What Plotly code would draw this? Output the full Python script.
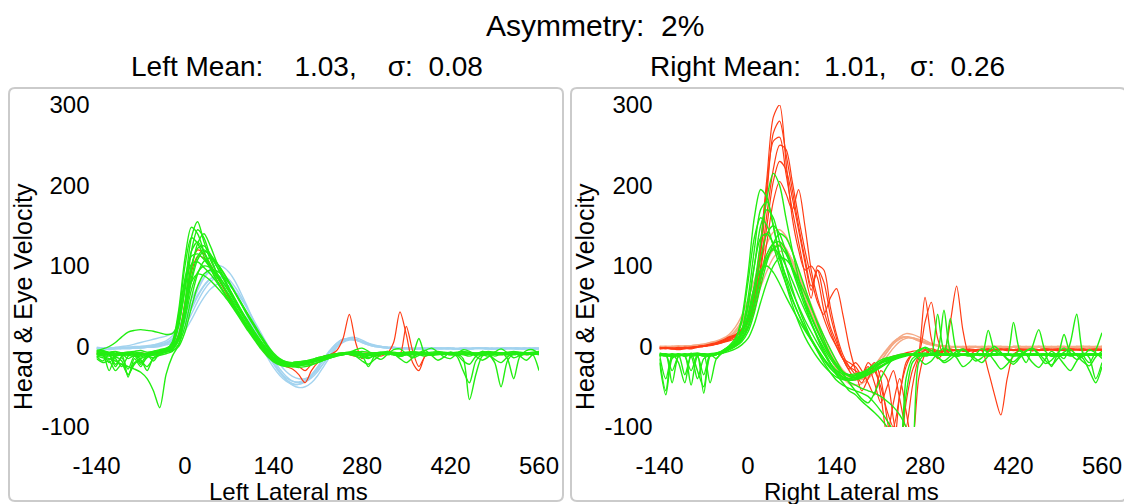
import plotly.graph_objects as go

# ---------------- data ----------------
TIME_MS = list(range(-140, 561, 10))          # 71 samples, 10 ms apart
X_TICKS = [-140, 0, 140, 280, 420, 560]
Y_TICKS = [-100, 0, 100, 200, 300]

NB = "\u00a0"
TITLE = "Asymmetry:" + NB * 2 + "2%"
LEFT_SUBTITLE = "Left Mean:" + NB * 4 + "1.03," + NB * 4 + "σ:" + NB * 2 + "0.08"
RIGHT_SUBTITLE = "Right Mean:" + NB * 3 + "1.01," + NB * 3 + "σ:" + NB * 2 + "0.26"
LEFT_XTITLE = "Left Lateral ms"
RIGHT_XTITLE = "Right Lateral ms"
Y_TITLE = "Head & Eye Velocity"

# Left lateral: head velocity (blue)
LEFT_HEAD = [
    [-2,-3,-3,-2,-2,-3,-2,-1,0,1,2,4, 8,16,30,46,62,75,84,88,86,79,67,52,36,20,5,-9,-22,-33,-41,
     -46,-47,-44,-37,-27,-16,-5,4,9,10,8,5,2,0,-1,-2,-2,-2,-3,-3,-2,-2,-3,-3,-2,-2,-3,-3,-3,-2,-2,-3,-3,-2,-2,-3,-3,-2,-2,-3],
    [-3,-3,-4,-3,-3,-2,-2,-2,-1,0,1,3, 6,13,25,40,56,70,80,86,87,83,73,60,45,29,13,-2,-16,-28,-37,
     -43,-45,-44,-39,-31,-20,-9,1,7,9,8,6,3,1,0,-1,-2,-2,-2,-3,-3,-2,-2,-2,-3,-3,-3,-2,-2,-2,-3,-3,-2,-2,-2,-3,-3,-3,-2,-2],
    [-2,-2,-1,-2,-2,-1,-1,0,0,2,3,5, 10,19,34,52,70,85,96,101,99,92,80,64,47,30,13,-3,-18,-31,-41,
     -48,-51,-50,-45,-36,-24,-12,-1,7,11,11,8,4,1,-1,-2,-2,-3,-3,-3,-2,-2,-3,-3,-3,-2,-2,-2,-3,-3,-2,-2,-3,-3,-3,-2,-2,-2,-3,-3],
    [-3,-3,-3,-3,-2,-2,-2,-2,-1,-1,0,2, 4,10,20,33,48,61,71,77,78,75,68,58,45,31,17,3,-10,-22,-31,
     -37,-40,-40,-36,-29,-20,-10,-1,5,8,8,6,4,2,0,-1,-1,-2,-2,-2,-3,-3,-2,-2,-2,-3,-3,-2,-2,-2,-2,-3,-3,-2,-2,-2,-3,-3,-2,-2],
    [-1,-2,-2,-2,-1,-1,0,0,1,2,4,7, 13,24,40,58,74,86,93,94,90,81,68,52,35,18,2,-13,-26,-36,-43,
     -47,-47,-43,-35,-25,-14,-4,4,9,10,9,6,3,1,0,-1,-1,-2,-2,-2,-2,-3,-3,-2,-2,-2,-3,-3,-3,-2,-2,-2,-2,-3,-3,-2,-2,-2,-3,-3],
    [-2,-2,-2,-1,0,1,3,5,7,9,11,13, 17,24,36,50,64,76,84,87,85,78,67,53,38,22,7,-8,-21,-32,-39,
     -43,-44,-41,-35,-26,-16,-6,2,7,9,8,5,2,0,-1,-2,-2,-2,-2,-3,-3,-3,-2,-2,-2,-2,-3,-3,-3,-2,-2,-2,-3,-3,-2,-2,-2,-3,-3,-2],
]

# Left lateral: flagged eye traces (red)
LEFT_EYE_RED = [
    [-8,-9,-10,-9,-8,-9,-10,-8,-9,-8,-6,-4, 0,15,55,100,120,115,102,88,74,60,46,33,21,9,-2,-11,-18,-22,-25,
     -28,-35,-45,-30,-20,-15,-10,-5,10,40,5,-15,-10,-12,-10,-8,5,43,15,-20,-30,-12,-10,-9,-8,-9,-10,-9,-8,-9,-10,-9,-8,-9,-10,-9,-8,-9,-10,-9],
    [-9,-8,-9,-10,-9,-8,-9,-10,-9,-8,-7,-5, -2,10,45,92,112,110,100,87,74,60,47,34,22,10,-1,-10,-17,-21,-23,
     -24,-25,-30,-22,-15,-12,-10,-9,-8,-10,-12,-9,-8,-10,-12,-9,-8,-10,25,-5,-25,-12,-9,-8,-9,-10,-9,-8,-9,-10,-9,-8,-9,-10,-9,-8,-9,-10,-9,-8],
]

# Left lateral: eye velocity (green)
LEFT_EYE = [
    [-8,-10,-9,-12,-10,-8,-9,-11,-10,-8,-6,-4, 2,25,75,135,155,130,108,92,80,68,55,42,28,15,2,-8,-16,-20,-22,
     -22,-21,-20,-18,-16,-14,-12,-10,-9,-8,-8,-9,-10,-8,-9,-10,-9,-8,-10,-12,-9,-8,-10,-9,-8,-9,-10,-8,-9,-10,-9,-8,-10,-9,-8,-9,-8,-10,-9,-8],
    [-5,-6,-8,-15,-25,-12,-8,-20,-10,-6,-5,-3, 0,12,45,95,128,140,125,105,88,72,57,43,30,17,5,-6,-15,-21,-24,
     -25,-24,-22,-19,-16,-13,-11,-9,-8,-7,-6,-8,-10,-12,-9,-7,-8,-9,-8,-7,-8,-9,-11,-9,-8,-7,-8,-9,-8,-10,-9,-8,-7,-8,-9,-10,-9,-8,-8,-9],
    [-10,-12,-15,-18,-22,-25,-28,-32,-40,-55,-76,-35, -12,2,38,85,112,120,112,100,86,72,58,44,31,18,6,-5,-14,-20,-23,
     -24,-23,-21,-19,-17,-15,-13,-11,-10,-9,-10,-12,-14,-11,-9,-8,-10,-12,-10,-9,-8,-9,-11,-10,-9,-8,-9,-15,-66,-35,-12,-9,-10,-9,-8,-9,-10,-9,-8,-9],
    [-5,-3,0,5,12,18,20,21,20,19,17,15, 16,30,70,118,130,118,102,88,75,62,49,36,24,12,1,-9,-17,-22,-24,
     -24,-22,-20,-17,-14,-12,-10,-9,-8,-8,-9,-10,-9,-8,-7,-8,-9,-10,-9,-8,-8,-9,-10,-9,-8,-9,-8,-9,-10,-9,-8,-8,-9,-10,-9,-8,-9,-8,-9,-8],
    [-12,-14,-16,-13,-18,-35,-22,-15,-12,-14,-11,-9, -6,3,25,60,90,106,110,104,93,80,66,52,38,25,12,0,-10,-18,-22,
     -25,-26,-25,-23,-20,-17,-14,-12,-10,-9,-10,-11,-25,-12,-9,-8,-10,-9,-8,-9,-10,-12,-9,-8,-9,-8,-9,-10,-12,-9,-8,-10,-20,-50,-18,-9,-8,-10,-9,-8],
    [-8,-9,-30,-12,-10,-38,-15,-25,-12,-10,-8,-6, -3,10,50,100,122,125,115,100,85,70,55,41,28,15,3,-7,-15,-19,-21,
     -21,-20,-19,-18,-17,-15,-13,-11,-10,-9,-9,-10,-11,-10,-9,-8,-9,-12,-10,-9,-8,-9,-10,-9,-8,-9,-10,-9,-8,-10,-11,-9,-8,-9,-10,-9,-8,-9,-10,-30],
    [-6,-7,-8,-7,-9,-8,-7,-8,-9,-7,-6,-5, -2,8,35,70,92,100,98,90,80,68,55,42,30,18,7,-3,-11,-16,-19,
     -20,-20,-19,-17,-15,-13,-11,-9,-8,-7,-4,-2,-6,-12,-16,-10,-4,-3,-9,-14,-11,-5,-2,-7,-13,-15,-9,-4,-6,-12,-17,-13,-7,-3,-8,-14,-11,-5,-4,-9],
    [-10,-11,-10,-25,-12,-10,-11,-22,-14,-10,-9,-7, -4,8,55,118,145,135,112,92,76,62,49,37,25,13,2,-8,-16,-21,-23,
     -23,-22,-21,-19,-17,-14,-12,-10,-9,-8,-9,-12,-15,-11,-9,-8,-9,-10,-9,-8,-9,-10,-9,-8,-9,-10,-11,-9,-8,-9,-10,-9,-8,-9,-10,-9,-8,-9,-10,-9],
    [-7,-8,-9,-10,-8,-7,-9,-10,-8,-7,-5,-3, 3,35,85,112,115,108,98,87,76,64,52,40,28,16,5,-5,-13,-18,-20,
     -20,-19,-18,-16,-14,-12,-11,-10,-9,-8,-8,-9,-10,-9,-8,-9,-10,-9,-8,-9,-10,-9,-8,-9,-10,-9,-12,-30,-45,-18,-10,-9,-8,-9,-10,-9,-8,-9,-10,-9],
    [-9,-10,-8,-9,-11,-10,-9,-8,-10,-9,-8,-7, -5,0,18,48,75,90,95,94,88,78,66,53,40,27,14,2,-8,-15,-19,
     -21,-22,-21,-20,-18,-15,-12,-10,-9,-8,-12,-18,-22,-16,-10,-6,-9,-15,-20,-14,-8,-5,-11,-17,-13,-7,-10,-18,-22,-12,-6,-9,-16,-20,-13,-8,-12,-17,-10,-6],
    [-15,-20,-18,-30,-22,-35,-20,-18,-25,-15,-10,-6, 0,30,80,102,105,98,90,80,69,58,46,35,23,12,1,-8,-15,-19,-21,
     -21,-20,-19,-18,-17,-16,-14,-12,-10,-9,-8,-9,-10,-9,-8,-9,-10,-9,-8,-9,10,-10,-9,-8,-9,-10,-9,-8,-9,-10,-9,-8,-9,-10,-9,-8,-9,-8,-9,-10],
    [-12,-18,-10,-22,-14,-28,-12,-16,-30,-14,-9,-5, 4,40,100,135,128,112,97,83,70,57,45,33,21,10,-1,-10,-17,-21,-23,
     -23,-22,-20,-18,-16,-14,-12,-11,-10,-9,-10,-11,-10,-9,-8,-9,-10,-11,-9,-8,-9,-10,-9,-8,-9,-10,-9,-8,-9,-10,-9,-8,-12,-9,-8,-9,-10,-9,-8,-9],
    [-6,-5,-7,-6,-8,-7,-6,-5,-7,-6,-4,-2, 2,12,40,80,108,118,114,104,92,79,65,51,37,24,11,-1,-10,-16,-20,
     -22,-23,-23,-22,-20,-17,-14,-11,-9,-8,-7,-6,-7,-8,-7,-6,-7,-8,-7,-6,-7,-8,-7,-6,-7,-8,-7,-6,-7,-8,-7,-6,-7,-8,-7,-6,-7,-8,-7,-6],
    [-14,-10,-20,-12,-9,-15,-11,-13,-10,-18,-8,-4, 6,45,110,148,140,118,98,82,68,55,43,31,19,8,-3,-12,-19,-23,-25,
     -25,-24,-22,-20,-17,-14,-12,-10,-9,-10,-12,-14,-12,-10,-9,-8,-10,-12,-10,-9,-8,-9,-10,-9,-8,-9,-10,-9,-8,-9,-10,-12,-9,-8,-15,-40,-12,-9,-8,-9],
    [-10,-11,-12,-10,-9,-11,-12,-10,-9,-11,-9,-6, -2,15,50,80,90,88,82,74,65,55,45,34,23,12,2,-7,-14,-18,-20,
     -20,-19,-18,-17,-15,-13,-11,-10,-9,-8,-9,-10,-9,-8,-9,-10,-9,-8,-9,-10,-9,-8,-9,-10,-9,-8,-9,-10,-9,-8,-9,-10,-9,-8,-9,-10,-9,-8,-9,-10],
]

# Right lateral: head velocity (orange)
RIGHT_HEAD = [
    [0,0,-1,0,0,1,1,2,3,5,8,12, 20,32,50,72,95,115,128,130,122,105,84,62,40,20,2,-14,-27,-36,-41,
     -42,-39,-33,-24,-13,-3,6,11,12,10,7,4,2,1,0,0,-1,-1,0,0,-1,-1,0,0,-1,0,0,-1,-1,0,0,-1,0,0,-1,-1,0,0,-1,0],
    [-1,-1,0,0,-1,0,1,1,2,4,7,11, 17,28,44,64,86,106,120,125,120,106,87,66,45,25,7,-9,-22,-32,-38,
     -41,-40,-36,-28,-18,-7,3,9,12,11,8,5,3,1,0,-1,-1,0,0,-1,-1,0,0,-1,-1,0,0,-1,0,0,-1,-1,0,0,-1,0,0,-1,-1,0],
    [0,0,0,1,0,1,2,3,5,7,10,15, 24,38,58,82,107,128,142,145,137,118,94,69,45,23,4,-13,-28,-39,-46,
     -48,-46,-40,-31,-19,-7,4,12,16,15,12,8,4,2,1,0,0,-1,-1,0,0,-1,0,0,-1,-1,0,0,-1,0,0,-1,-1,0,0,-1,0,0,-1,0],
    [-1,0,0,-1,0,0,0,1,2,3,5,8, 13,22,36,54,74,94,110,118,117,107,91,72,52,32,13,-4,-18,-29,-36,
     -40,-41,-38,-31,-22,-12,-2,6,10,11,9,6,3,1,0,0,-1,-1,0,0,-1,0,0,-1,-1,0,0,-1,0,0,-1,0,0,-1,-1,0,0,-1,0,0],
    [0,-1,0,0,1,1,2,3,4,6,9,13, 19,30,47,68,90,110,123,127,121,107,88,67,46,26,8,-8,-21,-31,-37,
     -39,-37,-32,-24,-14,-4,5,10,12,10,7,4,2,1,0,-1,0,0,-1,-1,0,0,-1,0,0,-1,-1,0,0,-1,0,0,-1,-1,0,0,-1,0,0,-1],
]

# Right lateral: flagged eye traces (red)
RIGHT_EYE_RED = [
    [-2,-3,-2,-3,-2,-1,0,1,3,5,8,12, 15,22,38,70,130,210,285,300,230,160,120,95,100,85,45,20,0,-15,-20,
     -25,-35,-20,-30,-50,-80,-100,-60,-20,-10,-8,-5,-3,-5,-6,-4,-5,-3,-4,-5,-4,-3,-5,-4,-3,-4,-5,-4,-3,-4,-5,-4,-3,-4,-5,-4,-3,-4,-5,-4],
    [-3,-2,-3,-4,-3,-2,-1,0,2,4,7,11, 14,20,34,62,115,190,265,280,240,195,150,110,75,95,60,25,5,-15,-28,
     -20,-30,-45,-60,-30,-40,-90,-130,-70,-30,-10,61,10,-15,-8,-5,-4,-6,-5,-4,-3,-5,-4,-3,-5,-4,-3,-4,-5,-4,-3,-4,-5,-4,-3,-4,-5,-3,-4,-5],
    [-1,-2,-3,-2,-1,-2,0,1,2,4,6,10, 14,20,32,55,100,165,220,250,245,205,160,120,85,55,40,60,72,40,0,
     -30,-55,-40,-25,-60,-110,-70,-40,-80,-120,-40,-10,-5,-8,-6,30,75,20,-10,-5,-4,-6,-5,-3,-4,-5,-4,-3,-5,-4,-3,-4,-5,-4,-3,-4,-5,-4,-3,-4],
    [-2,-1,-2,-3,-2,-1,0,0,2,3,5,8, 12,18,30,52,95,150,205,230,220,185,145,105,70,95,80,40,10,-15,-30,
     -40,-35,-25,-45,-70,-50,-30,-65,-100,-50,-15,-5,-10,-8,-5,-6,-4,-5,-6,-4,-5,-30,-60,-85,-40,-10,-5,-4,-3,-5,-4,-3,-4,-5,-4,-3,-4,-5,-4,-3],
    [-3,-2,-2,-1,-2,-3,-1,0,1,3,6,9, 13,19,33,60,120,200,255,260,215,170,130,90,60,100,95,50,15,-10,-25,
     -35,-45,-30,-20,-40,-90,-130,-60,-25,-10,-8,30,55,10,-10,-6,-5,-4,-5,-6,-4,-3,-5,-4,-3,-4,-5,-4,-3,-4,-5,-4,-3,-4,-5,-4,-3,-4,-5,-4],
    [-2,-2,-3,-2,-1,-1,0,1,2,3,5,7, 10,15,25,45,80,130,180,205,190,170,195,150,95,60,35,15,0,-15,-25,
     -30,-35,-30,-25,-20,-15,-12,-10,-8,-6,-5,-4,-5,-6,-4,-3,-5,-4,-3,-4,-5,-4,-3,-4,-5,-4,-3,-4,-5,-4,-3,-4,-5,-4,-3,-4,-5,-4,-3,-4],
]

# Right lateral: eye velocity (green)
RIGHT_EYE = [
    [-10,-12,-11,-10,-12,-10,-11,-9,-10,-8,-5,0, 5,20,60,120,170,180,150,115,85,60,40,22,8,-5,-17,-27,-34,-38,-40,
     -36,-33,-29,-25,-21,-18,-15,-13,-11,-10,-4,-2,-8,-14,-18,-12,-6,-3,-9,-15,-20,-12,-5,-8,-16,-22,-14,-6,-2,-9,-17,-23,-15,-7,-4,-11,-19,-24,-13,-6],
    [-15,-55,-10,-20,-45,-8,-30,-50,-10,-15,-5,0, 5,15,35,75,130,185,215,200,160,120,85,55,30,10,-8,-22,-32,-38,-40,
     -38,-34,-28,-22,-17,-14,-12,-10,-9,-10,-12,-10,-9,-8,-10,-11,-9,-10,-12,-10,-9,-10,-11,-9,-10,-12,-10,-9,-10,-11,-9,-10,-12,-10,-9,-10,-11,-9,-10,-12],
    [-8,-10,-9,-11,-10,-9,-8,-10,-9,-8,-6,-2, 3,12,30,65,110,140,150,140,118,95,72,50,30,12,-5,-20,-35,-45,-55,
     -60,-68,-75,-82,-90,-100,-115,-130,-40,-15,-10,-9,-10,-11,-10,-9,-10,-11,-10,-9,-10,-11,-10,-9,-10,-11,-10,-9,-10,-11,-10,-9,-10,-11,-10,-9,-10,-11,-10,-9],
    [-12,-10,-13,-11,-10,-12,-40,-15,-11,-10,-7,-3, 2,10,25,55,90,115,128,130,120,100,78,56,36,18,2,-12,-24,-32,-37,
     -39,-38,-35,-31,-26,-21,-17,-14,-12,-10,-9,-8,-10,-5,45,-5,-12,-10,-9,-10,-11,20,-5,-10,-11,-10,-9,-10,-11,-10,-9,-10,-11,-10,-9,-10,-11,-10,-9,-10],
    [-10,-9,-11,-10,-35,-12,-10,-9,-11,-10,-8,-4, 0,8,22,50,85,110,120,115,100,82,63,45,28,12,-2,-15,-25,-32,-35,
     -36,-35,-32,-28,-24,-20,-16,-13,-11,-10,-9,-10,-11,-10,-9,-10,-11,-10,-9,-10,-11,-10,-9,-10,-11,-10,-9,-20,0,21,-5,-12,-10,-15,5,40,-10,-20,-5,17],
    [-20,-60,-15,-10,-12,-30,-10,-58,-12,-10,-7,-2, 8,30,80,135,160,150,125,100,78,58,40,24,10,-3,-15,-26,-35,-40,-42,
     -41,-38,-33,-27,-21,-17,-14,-12,-11,-10,-15,-22,-18,-8,-2,-6,-14,-25,-20,-10,-3,-8,-18,-28,-22,-12,-5,-10,-20,-26,-16,-6,-12,-22,-30,-18,-8,-14,-40,-20],
    [-10,-11,-10,-12,-10,-11,-10,-12,-10,-9,-8,-6, -3,2,10,28,55,80,100,110,108,98,83,66,48,30,13,-3,-18,-32,-45,
     -55,-65,-70,-58,-40,-25,-15,-12,-10,-9,-10,-11,-10,-9,-10,35,-5,-10,-11,-10,-9,-10,-11,-10,-9,-10,-11,-10,-9,-10,-11,-10,-9,-10,-11,-10,-9,-10,-11,-10],
    [-9,-10,-30,-12,-10,-9,-11,-10,-45,-15,-8,-3, 4,18,50,100,135,140,128,108,88,68,50,33,18,4,-9,-20,-30,-38,-44,
     -48,-52,-55,-58,-62,-68,-75,-85,-100,-125,-20,-10,-11,-10,-9,-10,-11,-10,-9,-10,-11,-10,-9,-10,-11,-10,-9,-10,-11,-10,-9,-10,-11,-10,-9,-10,-11,-10,-9,-10],
    [-11,-10,-12,-11,-10,-12,-11,-10,-12,-10,-8,-4, 1,9,24,52,85,110,122,125,115,97,77,57,38,20,4,-10,-22,-31,-36,
     -38,-37,-34,-30,-25,-20,-16,-13,-11,-10,-11,-12,-10,-9,-10,-11,-12,-10,-9,-10,-11,-12,-10,-9,-10,-11,-12,-10,-9,-10,-11,-25,-10,-9,-12,-10,-15,-30,-45,-25],
    [-10,-12,-11,-10,-9,-11,-10,-12,-11,-9,-7,-3, 3,15,40,75,95,100,92,78,62,47,33,20,8,-4,-15,-24,-30,-34,-35,
     -34,-32,-28,-24,-20,-16,-13,-11,-10,-9,-6,-1,-5,-12,-20,-16,-9,-4,-10,-18,-14,-6,0,-7,-15,-19,-12,-5,-3,-11,-21,-17,-8,-2,-9,-16,-12,-4,-8,-15],
    [-10,-40,-12,-10,-11,-48,-12,-10,-11,-10,-6,-1, 6,20,50,100,150,170,160,130,100,72,48,28,10,-6,-20,-32,-42,-48,-52,
     -55,-58,-62,-70,-80,-92,-105,-120,-60,-20,-12,-10,-9,-10,-11,-10,-9,-10,-11,-10,-9,-10,-11,-10,-9,-10,-11,-10,-9,-10,-11,-10,-9,-10,-11,-10,-9,-10,-11,-10],
    [-9,-11,-10,-9,-12,-10,-9,-11,-10,-9,-7,-4, 0,6,18,42,75,105,128,140,135,118,96,73,50,28,8,-10,-25,-35,-40,
     -41,-39,-35,-30,-25,-20,-16,-13,-11,-10,-9,-10,-11,-10,-9,-10,-11,-10,-9,-10,-11,-10,-9,-10,-11,30,-5,-10,-11,-10,-9,-12,-10,15,-8,-10,-12,-9,-10,-11],
    [-12,-10,-45,-12,-10,-11,-12,-35,-10,-9,-5,1, 10,35,90,160,195,185,150,110,78,52,30,12,-2,-14,-24,-32,-38,-41,-42,
     -40,-36,-30,-24,-19,-15,-13,-11,-10,-9,-10,-11,-10,40,-5,-10,-11,-10,-9,-10,-11,-10,-9,-10,-11,-10,-9,-10,-11,-10,-9,-10,-11,-10,-9,-10,-11,-10,-9,-10],
]

for name, group in [("LEFT_HEAD", LEFT_HEAD), ("LEFT_EYE_RED", LEFT_EYE_RED), ("LEFT_EYE", LEFT_EYE),
                    ("RIGHT_HEAD", RIGHT_HEAD), ("RIGHT_EYE_RED", RIGHT_EYE_RED), ("RIGHT_EYE", RIGHT_EYE)]:
    for i, tr in enumerate(group):
        assert len(tr) == len(TIME_MS), f"{name}[{i}] has {len(tr)} values"

# ---------------- styling ----------------
# The page body has an 8 px margin, so the figure is 8 px smaller and all
# reference pixel positions are shifted by that offset.
OFF = 8
W, H = 1132 - OFF, 504 - OFF
FONT = "Liberation Sans"
TXT = "#000000"
GREEN = "#22ee11"
RED = "#ff3c14"
BLUE = "#a3d3ef"
ORANGE = "#f5a985"

def px_x(p):
    return (p - OFF) / W

def px_y(p):
    return 1 - (p - OFF) / H

fig = go.Figure()

panels = [
    dict(xa="x", ya="y", head=LEFT_HEAD, head_color=BLUE, red=LEFT_EYE_RED, eye=LEFT_EYE),
    dict(xa="x2", ya="y2", head=RIGHT_HEAD, head_color=ORANGE, red=RIGHT_EYE_RED, eye=RIGHT_EYE),
]
for p in panels:
    groups = [(p["head"], p["head_color"], 1.4), (p["red"], RED, 1.2), (p["eye"], GREEN, 1.4)]
    for traces, color, width in groups:
        for tr in traces:
            fig.add_trace(go.Scatter(x=TIME_MS, y=tr, mode="lines", xaxis=p["xa"], yaxis=p["ya"],
                                     line=dict(color=color, width=width, shape="spline", smoothing=0.8),
                                     showlegend=False, hoverinfo="skip"))

# plot areas (reference pixel positions converted to paper)
LEFT_DOM = [px_x(96.5), px_x(539)]
RIGHT_DOM = [px_x(659.5), px_x(1102)]
Y_DOM = [px_y(427), px_y(105)]

xcommon = dict(range=[-140, 560], tickvals=X_TICKS, ticktext=[str(v) for v in X_TICKS],
               showgrid=False, zeroline=False, showline=False, ticks="", automargin=False,
               tickfont=dict(family=FONT, size=24, color=TXT), ticklabelstandoff=22)
ycommon = dict(range=[-100, 300], tickvals=Y_TICKS, ticktext=[str(v) for v in Y_TICKS],
               showgrid=False, zeroline=False, showline=False, ticks="", automargin=False,
               tickfont=dict(family=FONT, size=24, color=TXT), ticklabelstandoff=6)

fig.update_layout(
    width=W, height=H, autosize=False,
    margin=dict(l=0, r=0, t=0, b=0, pad=0, autoexpand=False),
    paper_bgcolor="white", plot_bgcolor="white",
    xaxis=dict(domain=LEFT_DOM, anchor="y", **xcommon),
    yaxis=dict(domain=Y_DOM, anchor="x", **ycommon),
    xaxis2=dict(domain=RIGHT_DOM, anchor="y2", **xcommon),
    yaxis2=dict(domain=Y_DOM, anchor="x2", **ycommon),
    showlegend=False,
)

# panel frames (rounded rectangles)
def rounded_rect(x0, y0, x1, y1, r=6):
    X0, X1 = px_x(x0), px_x(x1)
    Yt, Yb = px_y(y0), px_y(y1)
    rx, ry = r / W, r / H
    return (f"M {X0+rx},{Yt} L {X1-rx},{Yt} Q {X1},{Yt} {X1},{Yt-ry} "
            f"L {X1},{Yb+ry} Q {X1},{Yb} {X1-rx},{Yb} "
            f"L {X0+rx},{Yb} Q {X0},{Yb} {X0},{Yb+ry} "
            f"L {X0},{Yt-ry} Q {X0},{Yt} {X0+rx},{Yt} Z")

for (x0, x1) in [(9, 563), (571, 1126)]:
    fig.add_shape(type="path", xref="paper", yref="paper", path=rounded_rect(x0, 88, x1, 501),
                  line=dict(color="#cbcbcb", width=2), fillcolor="rgba(0,0,0,0)", layer="below")

def ann(text, x, y, size, angle=0):
    fig.add_annotation(text=text, x=px_x(x), y=px_y(y), xref="paper", yref="paper",
                       showarrow=False, xanchor="center", yanchor="middle", textangle=angle,
                       borderpad=0, font=dict(family=FONT, size=size, color=TXT))

ann(TITLE, 594.5, 26, 30)
ann(LEFT_SUBTITLE, 306.5, 67, 28)
ann(RIGHT_SUBTITLE, 827.5, 67, 28)
ann(LEFT_XTITLE, 288, 491, 24)
ann(RIGHT_XTITLE, 851, 491, 24)
ann(Y_TITLE, 23, 297, 25, -90)
ann(Y_TITLE, 585, 297, 25, -90)

fig.write_html("out.html")
